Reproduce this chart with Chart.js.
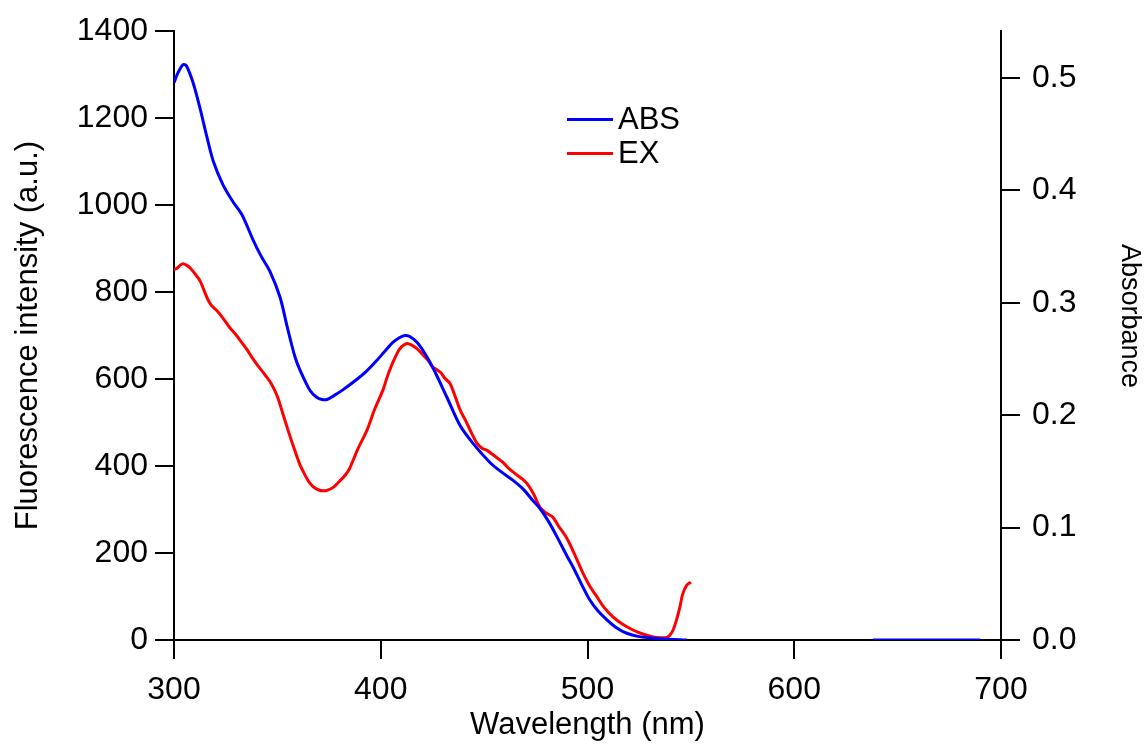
<!DOCTYPE html>
<html>
<head>
<meta charset="utf-8">
<script src="https://cdn.jsdelivr.net/npm/chart.js@4.4.1/dist/chart.umd.min.js"></script>
<style>
  body { margin: 0; background: #fff; }
  #wrap { position: relative; width: 1148px; height: 744px; }
  .txt { position: absolute; font-family: "Liberation Sans", Arial, Helvetica, sans-serif; color: #000; }
  .leg { left: 567px; font-size: 31px; display: flex; align-items: center; }
  .leg span.sw { display: inline-block; width: 46px; height: 0; border-top: 3px solid; margin-right: 5px; }
  #absTitle { left: 1130px; top: 316px; font-size: 27px; writing-mode: vertical-rl; transform: translate(-50%, -50%); white-space: nowrap; }
</style>
</head>
<body>
<div id="wrap">
  <canvas id="chart" width="1148" height="744"></canvas>
  <div class="txt leg" style="top:101px"><span class="sw" style="border-color:#0000ff"></span>ABS</div>
  <div class="txt leg" style="top:135px"><span class="sw" style="border-color:#ff0000"></span>EX</div>
  <div class="txt" id="absTitle">Absorbance</div>
</div>
<script>
// absorbance spectrum (right axis)
const absWavelength = [300, 302, 304.4, 306, 309.2, 312.6, 316, 319, 323.7, 328.5, 333, 338, 342, 346.4, 351.3, 354.7, 358.5, 361, 365.8, 369, 371.6, 374, 377, 382, 388.5, 393, 398.2, 402, 406, 409, 411.7, 414, 417.5, 421, 425.3, 432, 438.3, 444.6, 452.8, 458, 464, 469, 473.6, 477, 481, 485.2, 490, 493, 497, 501, 505, 509.4, 514, 519, 525, 530, 537, 548, 590, 638, 690];
const absValues = [0.496, 0.505, 0.512, 0.511, 0.496, 0.473, 0.447, 0.426, 0.405, 0.390, 0.378, 0.357, 0.342, 0.328, 0.305, 0.279, 0.252, 0.240, 0.222, 0.216, 0.214, 0.214, 0.217, 0.223, 0.232, 0.239, 0.249, 0.257, 0.265, 0.269, 0.271, 0.270, 0.265, 0.256, 0.242, 0.216, 0.191, 0.175, 0.158, 0.150, 0.142, 0.134, 0.124, 0.117, 0.106, 0.092, 0.075, 0.065, 0.050, 0.036, 0.026, 0.018, 0.011, 0.006, 0.003, 0.002, 0.001, 0.000, null, 0.000, 0.000];

// excitation spectrum (left axis)
const exWavelength = [300, 301.5, 303, 304.4, 306, 307.7, 310, 312.6, 316, 318, 320.8, 324, 327, 330, 332, 335, 337.7, 341, 344, 347, 350, 353, 356, 358.5, 361, 363.5, 365.8, 368, 370, 372, 374, 377, 380, 383, 385, 389, 393.3, 397, 401, 404, 407.9, 410, 412.7, 415, 417.5, 420, 422.9, 425, 427, 429, 431, 433.5, 436, 438.3, 441, 444, 446.6, 449, 451.4, 454, 456.5, 459, 462, 466, 468, 470.7, 474, 477, 480, 483.3, 486, 490, 493, 497.8, 501, 504.6, 508, 512.3, 517, 522, 526, 531.7, 535, 538.4, 540, 541.4, 543, 544.7, 546, 548, 550];
const exValues = [852, 855, 862, 865, 862, 856, 843, 826, 787, 770, 757, 738, 718, 702, 689, 670, 650, 628, 610, 590, 560, 515, 470, 435, 402, 378, 360, 350, 345, 343, 344, 351, 365, 380, 395, 440, 482, 530, 574, 617, 659, 674, 682, 678, 670, 658, 643, 628, 622, 615, 602, 590, 560, 530, 505, 475, 452, 441, 436, 427, 418, 409, 394, 379, 372, 360, 335, 305, 292, 282, 262, 234, 205, 154, 125, 99, 75, 53, 36, 23, 15, 7, 5, 6, 12, 23, 45, 76, 105, 126, 133];

const xTicks = [300, 400, 500, 600, 700];
const leftTicks = [0, 200, 400, 600, 800, 1000, 1200, 1400];
const rightTicks = [0, 0.1, 0.2, 0.3, 0.4, 0.5];

const FONT = '"Liberation Sans", Arial, Helvetica, sans-serif';
const toPoints = (xs, ys) => xs.map((x, i) => ({ x: x, y: ys[i] }));

const axisGrid = { display: true, drawOnChartArea: false, drawTicks: true, tickLength: 19, color: '#000', lineWidth: 2 };
const axisBorder = { display: true, color: '#000', width: 2 };

new Chart(document.getElementById('chart'), {
    type: 'line',
    data: {
        datasets: [
            { label: 'ABS', data: toPoints(absWavelength, absValues), yAxisID: 'yAbs', borderColor: '#0000ff', borderWidth: 3, pointRadius: 0, tension: 0.3, spanGaps: false },
            { label: 'EX', data: toPoints(exWavelength, exValues), yAxisID: 'yFl', borderColor: '#ff0000', borderWidth: 3, pointRadius: 0, tension: 0.3 }
        ]
    },
    options: {
        responsive: false,
        animation: false,
        layout: { padding: { top: 30, right: 0, left: 0, bottom: 0 } },
        plugins: { legend: { display: false }, tooltip: { enabled: false } },
        scales: {
            x: {
                type: 'linear', min: 300, max: 700,
                afterBuildTicks: s => { s.ticks = xTicks.map(v => ({ value: v })); },
                afterFit: s => { s.height = 104; },
                grid: axisGrid, border: axisBorder,
                ticks: { color: '#000', font: { family: FONT, size: 32 }, padding: 12, maxRotation: 0, callback: v => String(v) },
                title: { display: true, text: 'Wavelength (nm)', color: '#000', font: { family: FONT, size: 31 }, padding: { top: 0, bottom: 0 } }
            },
            yFl: {
                position: 'left', min: 0, max: 1400,
                afterBuildTicks: s => { s.ticks = leftTicks.map(v => ({ value: v })); },
                afterFit: s => { s.width = 174; },
                grid: axisGrid, border: axisBorder,
                ticks: { color: '#000', font: { family: FONT, size: 32 }, padding: 7, callback: v => String(v) },
                title: { display: true, text: 'Fluorescence intensity (a.u.)', color: '#000', font: { family: FONT, size: 31 }, padding: { top: 10, bottom: 0 } }
            },
            yAbs: {
                position: 'right', min: 0, max: 0.5417,
                afterBuildTicks: s => { s.ticks = rightTicks.map(v => ({ value: v })); },
                afterFit: s => { s.width = 147; },
                grid: axisGrid, border: axisBorder,
                ticks: { color: '#000', font: { family: FONT, size: 32 }, padding: 12, callback: v => v.toFixed(1) }
            }
        }
    }
});
</script>
</body>
</html>
